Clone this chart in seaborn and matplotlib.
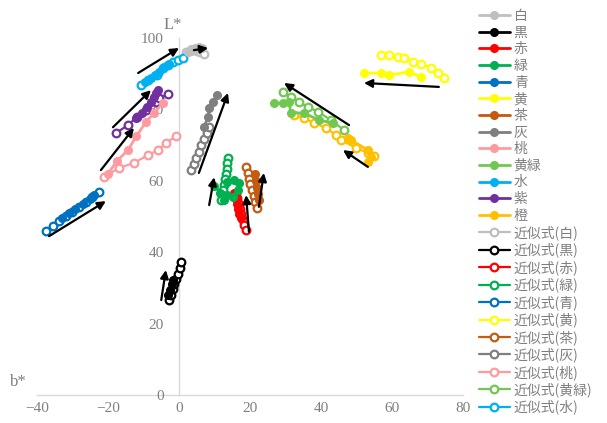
import matplotlib
matplotlib.use('Agg')
import matplotlib.pyplot as plt
import seaborn as sns

# measured (filled) series: b*, L*
white_b = [2.5, 3.5, 4.5, 5.5, 6.5]
white_L = [96.0, 96.8, 97.2, 97.4, 97.3]
black_b = [-3.0, -2.6, -2.1, -1.6]
black_L = [28.0, 29.5, 31.0, 32.2]
red_b = [15.5, 16.0, 16.4, 16.6, 17.0, 17.4]
red_L = [56.5, 55.0, 53.4, 52.0, 50.6, 49.5]
green_b = [10.0, 11.6, 12.7, 13.6, 15.2, 16.6, 16.9, 15.4, 13.4]
green_L = [58.6, 56.6, 54.6, 56.0, 55.5, 57.4, 59.4, 60.2, 59.7]
blue_b = [-33.0, -31.0, -29.2, -27.0, -25.2, -24.0]
blue_L = [49.6, 51.0, 52.2, 53.6, 55.0, 56.0]
yellow_b = [52.1, 56.9, 59.2, 64.8, 68.2]
yellow_L = [90.2, 90.2, 89.6, 90.5, 89.1]
brown_b = [21.5, 21.8, 22.1, 22.3, 22.5]
brown_L = [61.8, 60.0, 58.0, 56.2, 54.6]
gray_b = [7.0, 8.2, 8.5, 9.6, 10.7]
gray_L = [75.0, 77.9, 80.4, 82.0, 84.0]
pink_b = [-20.0, -17.5, -14.4, -12.0, -9.3, -7.0, -4.5]
pink_L = [62.0, 65.5, 68.6, 72.5, 76.5, 79.0, 81.8]
ygreen_b = [26.8, 29.3, 31.0, 31.5, 35.2, 39.4, 43.4]
ygreen_L = [81.8, 81.8, 82.0, 79.0, 79.0, 77.0, 76.2]
cyan_b = [-9.5, -7.9, -6.8, -5.6, -4.2, -2.8]
cyan_L = [87.8, 88.8, 89.5, 90.5, 91.9, 92.6]
purple_b = [-12.0, -10.5, -9.0, -8.0, -7.0, -6.4, -6.0]
purple_L = [77.5, 79.0, 80.6, 82.0, 83.5, 84.6, 85.4]
orange_b = [47.6, 48.5, 53.2, 54.1, 53.2]
orange_L = [72.0, 71.4, 68.6, 66.7, 65.3]

# approximation (open) series
white_fit_b = [2.0, 3.0, 4.0, 5.0, 6.0, 7.0]
white_fit_L = [96.2, 96.4, 96.5, 96.4, 96.1, 95.4]
black_fit_b = [-2.8, -2.3, -1.8, -1.3, -0.8, -0.3, 0.2, 0.6]
black_fit_L = [26.6, 28.0, 29.6, 31.0, 32.5, 34.0, 35.6, 37.3]
red_fit_b = [16.0, 16.4, 16.8, 17.2, 17.6, 18.0, 18.4, 18.9]
red_fit_L = [56.6, 55.1, 53.6, 52.1, 50.6, 49.1, 47.6, 46.2]
green_fit_b = [13.8, 13.6, 13.4, 13.2, 13.0, 12.7, 12.4, 12.1, 11.8]
green_fit_L = [66.4, 64.9, 63.4, 61.9, 60.4, 58.9, 57.4, 56.0, 54.6]
blue_fit_b = [-37.5, -35.6, -33.8, -31.9, -30.0, -28.1, -26.3, -24.4, -22.5]
blue_fit_L = [45.9, 47.2, 48.7, 50.1, 51.4, 52.8, 54.2, 55.6, 56.9]
yellow_fit_b = [56.9, 59.2, 61.7, 63.4, 65.9, 68.2, 71.0, 73.0, 74.6]
yellow_fit_L = [95.2, 95.2, 94.7, 94.4, 93.3, 92.8, 91.6, 90.2, 88.8]
brown_fit_b = [18.9, 19.3, 19.7, 20.1, 20.6, 21.0, 21.5, 22.0]
brown_fit_L = [63.9, 62.2, 60.6, 59.0, 57.3, 55.7, 54.0, 52.4]
gray_fit_b = [3.4, 4.1, 4.9, 5.6, 6.3, 7.0, 7.8, 8.5]
gray_fit_L = [63.0, 64.7, 66.4, 68.1, 69.9, 71.6, 73.3, 75.0]
pink_fit_b = [-21.1, -16.9, -12.7, -8.7, -5.9, -3.7, -0.8]
pink_fit_L = [61.1, 63.6, 65.0, 67.2, 68.6, 70.6, 72.5]
ygreen_fit_b = [29.3, 31.5, 33.8, 36.3, 39.2, 42.8, 46.5]
ygreen_fit_L = [84.9, 83.5, 82.0, 80.7, 79.3, 77.0, 74.2]
cyan_fit_b = [-10.7, -8.7, -6.2, -4.5, -3.1, -1.7, -0.3, 1.1]
cyan_fit_L = [86.8, 88.2, 89.6, 91.6, 92.4, 93.3, 93.8, 94.4]
purple_fit_b = [-17.7, -14.4, -11.8, -9.3, -6.5, -5.6, -3.1]
purple_fit_L = [73.4, 75.6, 77.9, 79.8, 82.1, 83.2, 84.3]
orange_fit_b = [32.4, 35.2, 38.0, 41.4, 44.2, 45.6, 49.9, 53.2, 54.9]
orange_fit_L = [78.4, 77.6, 76.2, 74.8, 72.8, 71.4, 69.2, 67.8, 67.0]

# trend arrows (start b*, start L*, end b*, end L*)
arrow_b0 = [4.2, -11.5, -18.6, -22.0, -36.6, 5.6, 8.5, 19.7, 22.5, -5.0, 47.9, 53.2, 73.2]
arrow_L0 = [96.6, 90.2, 75.0, 63.0, 44.5, 62.2, 53.2, 45.7, 52.7, 26.6, 75.6, 63.9, 86.3]
arrow_b1 = [8.2, 0.0, -7.9, -12.7, -20.6, 13.8, 9.9, 18.9, 23.9, -3.7, 29.6, 46.2, 52.1]
arrow_L1 = [97.2, 97.2, 85.4, 74.8, 54.3, 84.6, 61.0, 56.0, 62.2, 35.0, 87.4, 68.6, 87.4]

names = ['白', '黒', '赤', '緑', '青', '黄', '茶', '灰', '桃', '黄緑', '水', '紫', '橙']
colors = ['#bfbfbf', '#000000', '#ff0000', '#00b050', '#0070c0', '#ffff00', '#c55a11',
          '#7f7f7f', '#ff9a9e', '#70c850', '#00b0f0', '#7030a0', '#ffc000']
measured = [(white_b, white_L), (black_b, black_L), (red_b, red_L), (green_b, green_L),
            (blue_b, blue_L), (yellow_b, yellow_L), (brown_b, brown_L), (gray_b, gray_L),
            (pink_b, pink_L), (ygreen_b, ygreen_L), (cyan_b, cyan_L), (purple_b, purple_L),
            (orange_b, orange_L)]
fitted = [(white_fit_b, white_fit_L), (black_fit_b, black_fit_L), (red_fit_b, red_fit_L),
          (green_fit_b, green_fit_L), (blue_fit_b, blue_fit_L), (yellow_fit_b, yellow_fit_L),
          (brown_fit_b, brown_fit_L), (gray_fit_b, gray_fit_L), (pink_fit_b, pink_fit_L),
          (ygreen_fit_b, ygreen_fit_L), (cyan_fit_b, cyan_fit_L), (purple_fit_b, purple_fit_L),
          (orange_fit_b, orange_fit_L)]
# the legend only lists fits up to 水
fit_in_legend = 11

sns.set_theme(style='white')
plt.rcParams['font.family'] = ['Noto Sans CJK JP', 'DejaVu Sans']

fig = plt.figure(figsize=(6.07, 4.23), dpi=100)
ax = fig.add_axes([37 / 607, 28 / 423, 426 / 607, 357 / 423])

for i, (name, c) in enumerate(zip(names, colors)):
    bx, Ly = fitted[i]
    lab = '近似式(' + name + ')' if i < fit_in_legend else '_nolegend_'
    sns.lineplot(x=bx, y=Ly, sort=False, estimator=None, ax=ax, color=c, linewidth=1.6,
                 marker='o', markersize=5.5, markerfacecolor='white', markeredgecolor=c,
                 markeredgewidth=1.6, label=lab, zorder=2)
for i, (name, c) in enumerate(zip(names, colors)):
    bx, Ly = measured[i]
    sns.lineplot(x=bx, y=Ly, sort=False, estimator=None, ax=ax, color=c, linewidth=2,
                 marker='o', markersize=5.5, markerfacecolor=c, markeredgecolor=c,
                 markeredgewidth=1, label=name, zorder=3)

for b0, l0, b1, l1 in zip(arrow_b0, arrow_L0, arrow_b1, arrow_L1):
    ax.annotate('', xy=(b1, l1), xytext=(b0, l0),
                arrowprops=dict(arrowstyle='-|>', color='black', lw=1.6, mutation_scale=12,
                                shrinkA=0, shrinkB=0), zorder=5)

ax.set_xlim(-40, 80)
ax.set_ylim(0, 100)
ax.set_xticks([-40, -20, 0, 20, 40, 60, 80])
ax.set_yticks([0, 20, 40, 60, 80, 100])
ax.set_xlabel('')
ax.set_ylabel('')
for s in ['top', 'right']:
    ax.spines[s].set_visible(False)
for s in ['left', 'bottom']:
    ax.spines[s].set_position(('data', 0))
    ax.spines[s].set_color('#d9d9d9')
    ax.spines[s].set_linewidth(1)
    ax.spines[s].set_zorder(0)
ax.tick_params(axis='both', length=0, labelsize=11, labelcolor='#7f7f7f')
ax.tick_params(axis='y', pad=11)
ax.tick_params(axis='x', pad=5)
for t in ax.get_xticklabels() + ax.get_yticklabels():
    t.set_family('Liberation Serif')

ax.text(-47.5, 2.5, 'b*', fontsize=12, color='#7f7f7f', family='Liberation Serif',
        clip_on=False)
ax.text(-4.5, 102.5, 'L*', fontsize=12, color='#7f7f7f', family='Liberation Serif',
        clip_on=False)

handles, labels = ax.get_legend_handles_labels()
ax.get_legend().remove()
order = names + ['近似式(' + n + ')' for n in names[:fit_in_legend]]
lookup = dict(zip(labels, handles))
fig.legend([lookup[l] for l in order], order, loc='upper left',
           bbox_to_anchor=(479 / 607, 1 - 9 / 423), frameon=False, fontsize=10,
           handlelength=2.2, labelspacing=0.19, handletextpad=0.3, borderaxespad=0,
           borderpad=0, labelcolor='#7f7f7f')

fig.savefig('out.png', dpi=100)
